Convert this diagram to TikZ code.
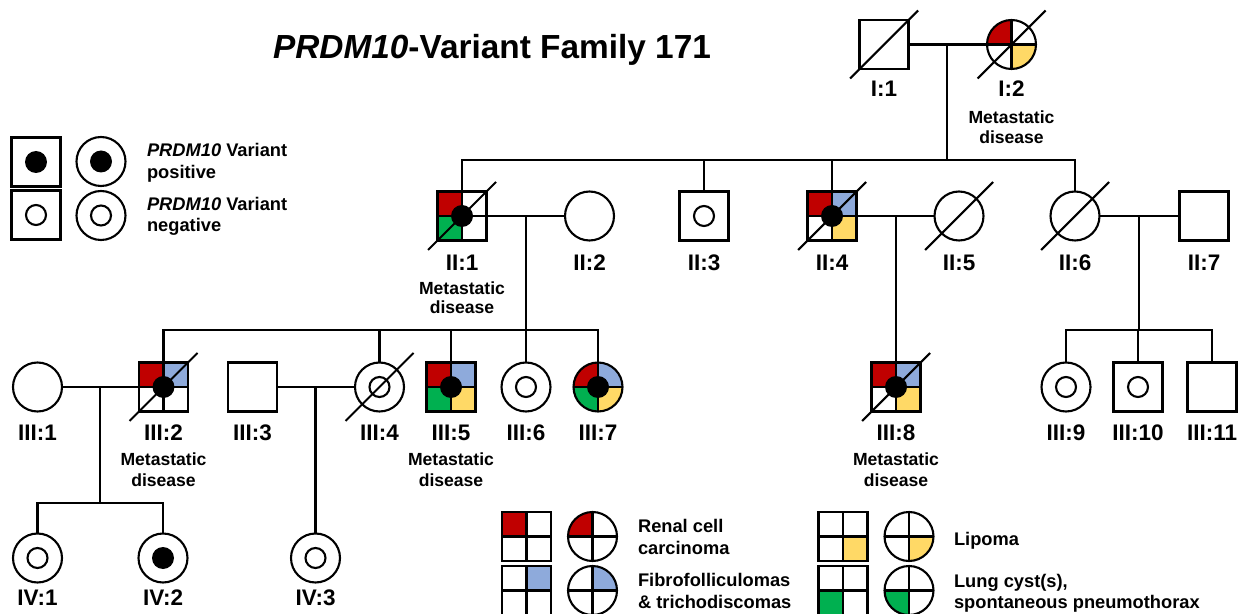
\documentclass[tikz,border=0pt]{standalone}
\usepackage{fontspec}
\setmainfont{Liberation Sans}
\usetikzlibrary{backgrounds}
\definecolor{rcc}{HTML}{C00000}
\definecolor{fib}{HTML}{8EAADB}
\definecolor{lip}{HTML}{FFD966}
\definecolor{lung}{HTML}{00B050}
\tikzset{
  sq/.style={draw, rectangle, minimum size=0.98cm, inner sep=0pt, outer sep=0pt},
  ci/.style={draw, circle, minimum size=0.98cm, inner sep=0pt, outer sep=0pt},
  lbl/.style={font=\bfseries\fontsize{12.8}{15}\selectfont, inner sep=0pt, anchor=base},
  met/.style={font=\bfseries\fontsize{10}{12}\selectfont, inner sep=0pt, anchor=base},
  leg/.style={font=\bfseries\fontsize{10.4}{12}\selectfont, inner sep=0pt, anchor=base west},
  titlefont/.style={font=\bfseries\fontsize{19}{23}\selectfont, inner sep=0pt, anchor=base west},
}
\newcommand\pedSq[3]{\fill[#3] (#1.center) rectangle (#1.#2);}
\newcommand\pedCq[3]{\fill[#3] (#1.center) -- ++(#2:0.49cm) arc[start angle=#2, delta angle=90, radius=0.49cm] -- cycle;}
\newcommand\pedX[1]{\draw (#1.north) -- (#1.south) (#1.west) -- (#1.east);}
\newcommand\pedDead[1]{\draw (#1.center) +(-34,-34) -- +(34,34);}
\newcommand\pedPos[1]{\fill (#1.center) circle[radius=0.22cm];}
\newcommand\pedNeg[1]{\draw (#1.center) circle[radius=0.2cm];}
\begin{document}
\begin{tikzpicture}[x=0.02cm, y=0.02cm, line width=1.2pt]
\begin{scope}[on background layer]
\fill[white] (0,0) rectangle (1239,-614);
\end{scope}
\useasboundingbox (0,0) rectangle (1239,-614);

% title
\node[titlefont] (title) at (272,-59) {\textit{PRDM10}-Variant Family 171};

% generation I
\node[sq] (I1) at (884,-44.5) {};
\node[ci] (I2) at (1011.5,-44.5) {};
% generation II
\node[sq] (II1) at (462,-216) {};
\node[ci] (II2) at (589.5,-216) {};
\node[sq] (II3) at (704,-216) {};
\node[sq] (II4) at (832,-216) {};
\node[ci] (II5) at (959,-216) {};
\node[ci] (II6) at (1075,-216) {};
\node[sq] (II7) at (1204,-216) {};
% generation III
\node[ci] (III1) at (37.5,-387) {};
\node[sq] (III2) at (163.5,-387) {};
\node[sq] (III3) at (252.5,-387) {};
\node[ci] (III4) at (379.5,-387) {};
\node[sq] (III5) at (451,-387) {};
\node[ci] (III6) at (526,-387) {};
\node[ci] (III7) at (598,-387) {};
\node[sq] (III8) at (896,-387) {};
\node[ci] (III9) at (1066,-387) {};
\node[sq] (III10) at (1138,-387) {};
\node[sq] (III11) at (1212,-387) {};
% generation IV
\node[ci] (IV1) at (37.5,-558) {};
\node[ci] (IV2) at (163,-558) {};
\node[ci] (IV3) at (315.5,-558) {};

% legend (variant status)
\node[sq] (LS1) at (36,-162) {};
\node[ci] (LC1) at (101,-161.5) {};
\node[sq] (LS2) at (36,-215) {};
\node[ci] (LC2) at (101,-215.5) {};
% legend (phenotypes)
\node[sq] (LRs) at (526.5,-536.5) {};
\node[ci] (LRc) at (592.5,-536.5) {};
\node[sq] (LFs) at (526.5,-590.5) {};
\node[ci] (LFc) at (592.5,-590.5) {};
\node[sq] (LLs) at (843,-536.5) {};
\node[ci] (LLc) at (909,-536.5) {};
\node[sq] (LGs) at (843,-590.5) {};
\node[ci] (LGc) at (909,-590.5) {};

% quadrant fills
\begin{scope}[on background layer]
\pedCq{I2}{90}{rcc} \pedCq{I2}{270}{lip}
\pedSq{II1}{north west}{rcc} \pedSq{II1}{south west}{lung}
\pedSq{II4}{north west}{rcc} \pedSq{II4}{north east}{fib} \pedSq{II4}{south east}{lip}
\pedSq{III2}{north west}{rcc} \pedSq{III2}{north east}{fib}
\pedSq{III5}{north west}{rcc} \pedSq{III5}{north east}{fib} \pedSq{III5}{south west}{lung} \pedSq{III5}{south east}{lip}
\pedCq{III7}{90}{rcc} \pedCq{III7}{0}{fib} \pedCq{III7}{180}{lung} \pedCq{III7}{270}{lip}
\pedSq{III8}{north west}{rcc} \pedSq{III8}{north east}{fib} \pedSq{III8}{south east}{lip}
\pedSq{LRs}{north west}{rcc} \pedCq{LRc}{90}{rcc}
\pedSq{LFs}{north east}{fib} \pedCq{LFc}{0}{fib}
\pedSq{LLs}{south east}{lip} \pedCq{LLc}{270}{lip}
\pedSq{LGs}{south west}{lung} \pedCq{LGc}{180}{lung}
\end{scope}

% quadrant dividers
\pedX{I2} \pedX{II1} \pedX{II4} \pedX{III2} \pedX{III5} \pedX{III7} \pedX{III8}
\pedX{LRs} \pedX{LRc} \pedX{LFs} \pedX{LFc} \pedX{LLs} \pedX{LLc} \pedX{LGs} \pedX{LGc}

% variant status
\pedPos{II1} \pedPos{II4} \pedPos{III2} \pedPos{III5} \pedPos{III7} \pedPos{III8} \pedPos{IV2}
\pedPos{LS1} \pedPos{LC1}
\pedNeg{II3} \pedNeg{III4} \pedNeg{III6} \pedNeg{III9} \pedNeg{III10} \pedNeg{IV1} \pedNeg{IV3}
\pedNeg{LS2} \pedNeg{LC2}

% deceased
\pedDead{I1} \pedDead{I2} \pedDead{II1} \pedDead{II4} \pedDead{II5} \pedDead{II6}
\pedDead{III2} \pedDead{III4} \pedDead{III8}

% connectors
\coordinate (m1) at (947,-44.5);
\coordinate (s2) at (947,-160);
\draw (I1.east) -- (I2.west);
\draw (m1) -- (s2);
\draw (II1.north) -- (II1.north |- s2) -- (II6.north |- s2) -- (II6.north);
\draw (II3.north) -- (II3.north |- s2);
\draw (II4.north) -- (II4.north |- s2);

\coordinate (m2) at (526,-216);
\coordinate (s3) at (526,-330);
\draw (II1.east) -- (II2.west);
\draw (m2) -- (s3);
\draw (III2.north) -- (III2.north |- s3) -- (III7.north |- s3) -- (III7.north);
\draw (III4.north) -- (III4.north |- s3);
\draw (III5.north) -- (III5.north |- s3);
\draw (III6.north) -- (III6.north |- s3);

\coordinate (m3) at (896,-216);
\draw (II4.east) -- (II5.west);
\draw (m3) -- (III8.north);

\coordinate (m4) at (1139,-216);
\coordinate (s4) at (1139,-330);
\draw (II6.east) -- (II7.west);
\draw (m4) -- (s4);
\draw (III9.north) -- (III9.north |- s4) -- (III11.north |- s4) -- (III11.north);
\draw (III10.north) -- (III10.north |- s4);

\coordinate (m5) at (100,-387);
\coordinate (s5) at (100,-503);
\draw (III1.east) -- (III2.west);
\draw (m5) -- (s5);
\draw (IV1.north) -- (IV1.north |- s5) -- (IV2.north |- s5) -- (IV2.north);

\coordinate (m6) at (315.5,-387);
\draw (III3.east) -- (III4.west);
\draw (m6) -- (IV3.north);

% labels
\node[lbl] (tI1) at (884,-97) {I:1};
\node[lbl] (tI2) at (1011.5,-97) {I:2};
\node[met] (tI2a) at (1011.5,-124) {Metastatic};
\node[met] (tI2b) at (1011.5,-144) {disease};

\node[lbl] (tII1) at (462,-270.5) {II:1};
\node[met] (tII1a) at (462,-295) {Metastatic};
\node[met] (tII1b) at (462,-314) {disease};
\node[lbl] (tII2) at (589.5,-270.5) {II:2};
\node[lbl] (tII3) at (704,-270.5) {II:3};
\node[lbl] (tII4) at (832,-270.5) {II:4};
\node[lbl] (tII5) at (959,-270.5) {II:5};
\node[lbl] (tII6) at (1075,-270.5) {II:6};
\node[lbl] (tII7) at (1204,-270.5) {II:7};

\node[lbl] (tIII1) at (37.5,-440.5) {III:1};
\node[lbl] (tIII2) at (163.5,-440.5) {III:2};
\node[met] (tIII2a) at (163.5,-465) {Metastatic};
\node[met] (tIII2b) at (163.5,-486) {disease};
\node[lbl] (tIII3) at (252.5,-440.5) {III:3};
\node[lbl] (tIII4) at (379.5,-440.5) {III:4};
\node[lbl] (tIII5) at (451,-440.5) {III:5};
\node[met] (tIII5a) at (451,-465) {Metastatic};
\node[met] (tIII5b) at (451,-486) {disease};
\node[lbl] (tIII6) at (526,-440.5) {III:6};
\node[lbl] (tIII7) at (598,-440.5) {III:7};
\node[lbl] (tIII8) at (896,-440.5) {III:8};
\node[met] (tIII8a) at (896,-465) {Metastatic};
\node[met] (tIII8b) at (896,-486) {disease};
\node[lbl] (tIII9) at (1066,-440.5) {III:9};
\node[lbl] (tIII10) at (1138,-440.5) {III:10};
\node[lbl] (tIII11) at (1212,-440.5) {III:11};

\node[lbl] (tIV1) at (37.5,-605.5) {IV:1};
\node[lbl] (tIV2) at (163,-605.5) {IV:2};
\node[lbl] (tIV3) at (315.5,-605.5) {IV:3};

% legend texts
\node[leg] (g1) at (146,-156.7) {\textit{PRDM10} Variant};
\node[leg] (g2) at (146,-178.5) {positive};
\node[leg] (g3) at (146,-210.7) {\textit{PRDM10} Variant};
\node[leg] (g4) at (146,-231.7) {negative};
\node[leg] (g5) at (637,-532.7) {Renal cell};
\node[leg] (g6) at (637,-554) {carcinoma};
\node[leg] (g7) at (637,-586.7) {Fibrofolliculomas};
\node[leg] (g8) at (637,-608) {\& trichodiscomas};
\node[leg] (g9) at (953,-545) {Lipoma};
\node[leg] (g10) at (953,-587) {Lung cyst(s),};
\node[leg] (g11) at (953,-608) {spontaneous pneumothorax};
\end{tikzpicture}
\end{document}
